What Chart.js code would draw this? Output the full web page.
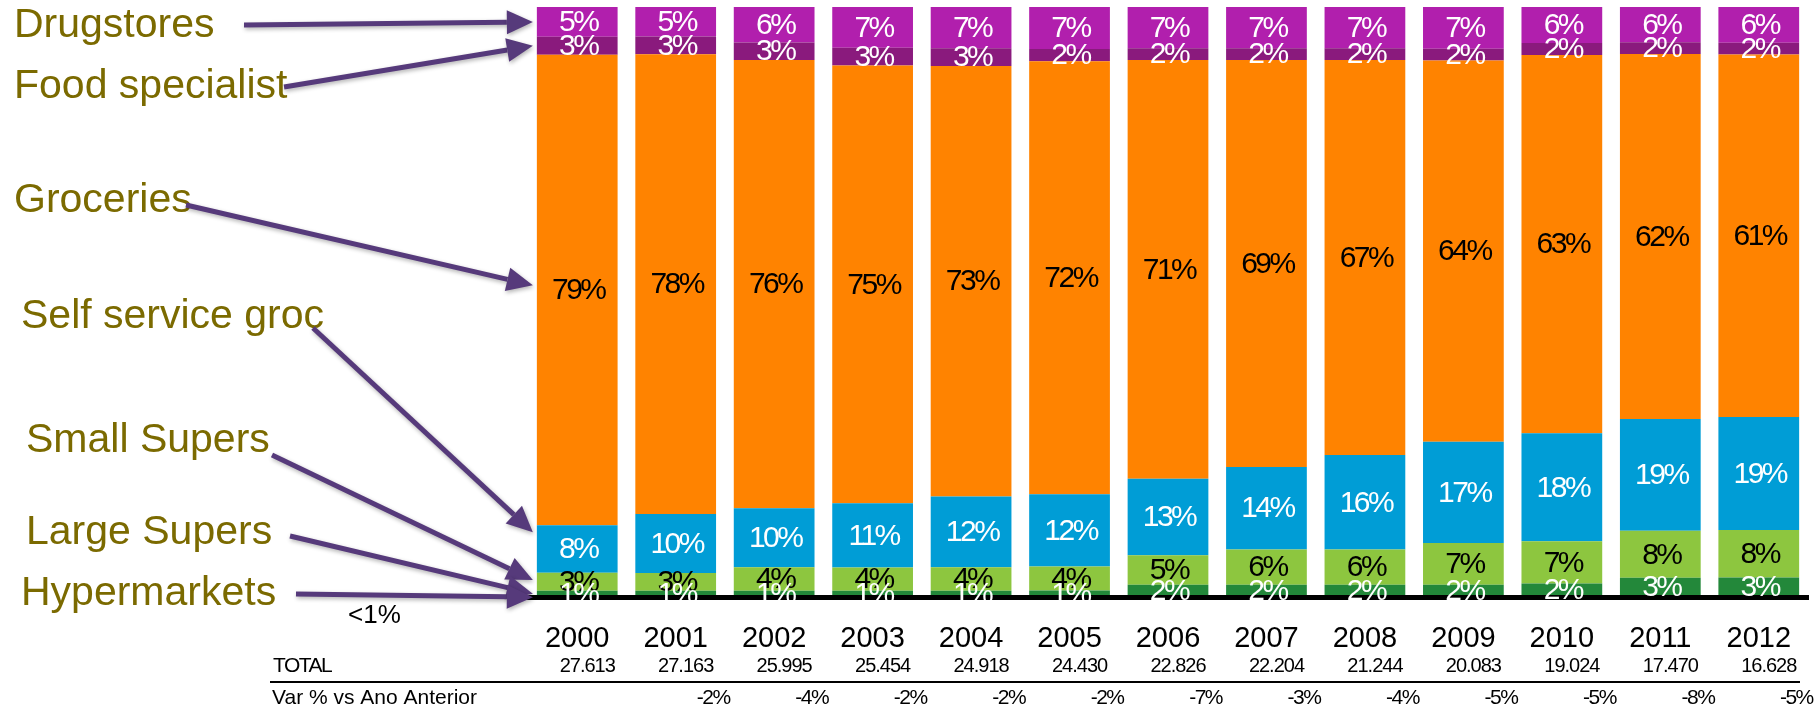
<!DOCTYPE html>
<html>
<head>
	<meta charset="UTF-8">
	<title>Canales</title>
	<script src="https://cdn.jsdelivr.net/npm/chart.js"></script>
	<style>
		body {
			margin:0;
			padding:0;
			overflow: hidden;
			background:#fff;
		}
	</style>
</head>
<body>
	<canvas id="chart" width="1820" height="708"></canvas>
	<script>
		// share of each channel per year, bottom to top
		const years = ['2000','2001','2002','2003','2004','2005','2006','2007','2008','2009','2010','2011','2012'];
		const channels = ['Hypermarkets','Large Supers','Small Supers','Self service groc','Groceries','Food specialist','Drugstores'];
		const hypermarkets   = [0.1,0.1,0.1,0.1,0.1,0.1,0.1,0.1,0.1,0.1,0.3,0.3,0.3];
		const largeSupers    = [1,1,1,1,1,1,2,2,2,2,2,3,3];
		const smallSupers    = [3,3,4,4,4,4,5,6,6,7,7,8,8];
		const selfService    = [8,10,10,11,12,12,13,14,16,17,18,19,19];
		const groceries      = [79,78,76,75,73,72,71,69,67,64,63,62,61];
		const foodSpecialist = [3,3,3,3,3,2,2,2,2,2,2,2,2];
		const drugstores     = [5,5,6,7,7,7,7,7,7,7,6,6,6];
		const totals = [27613,27163,25995,25454,24918,24430,22826,22204,21244,20083,19024,17470,16628];
		const varPct = [null,-2,-4,-2,-2,-2,-7,-3,-4,-5,-5,-8,-5];

		const series = [hypermarkets, largeSupers, smallSupers, selfService, groceries, foodSpecialist, drugstores];
		const colors = ['#b3121b','#23883a','#8dc63f','#009dd6','#ff8300','#8a1a7d','#b11fad'];
		const textColors = [null,'#fff','#000','#fff','#000','#fff','#fff'];

		// 100% stacked: each bar scaled to its own sum
		const sums = years.map((y, i) => series.reduce((a, s) => a + s[i], 0));

		// side captions with arrows into the first bar
		const callouts = [
			{ds: 6, x: 14, y: 26,  from: [244, 25],  at: 0.5},
			{ds: 5, x: 14, y: 87,  from: [284, 87],  at: 0.5},
			{ds: 4, x: 14, y: 201, from: [186, 205], at: 0.49},
			{ds: 3, x: 21, y: 317, from: [313, 328], at: 0.15},
			{ds: 2, x: 26, y: 441, from: [272, 455], at: 0.4},
			{ds: 1, x: 26, y: 533, from: [290, 536], at: 0.5},
			{ds: 0, x: 21, y: 594, from: [296, 594], at: 1}
		];

		const FONT = '"Liberation Sans", Arial, sans-serif';

		function fmtThousands(n){
			return String(n).replace(/\B(?=(\d{3})+(?!\d))/g, '.');
		}

		function arrow(ctx, x1, y1, x2, y2){
			const ang = Math.atan2(y2 - y1, x2 - x1);
			const len = 26, hw = 12;
			const bx = x2 - Math.cos(ang) * len, by = y2 - Math.sin(ang) * len;
			ctx.beginPath();
			ctx.moveTo(x1, y1);
			ctx.lineTo(bx, by);
			ctx.stroke();
			ctx.beginPath();
			ctx.moveTo(x2, y2);
			ctx.lineTo(bx - Math.sin(ang) * hw, by + Math.cos(ang) * hw);
			ctx.lineTo(bx + Math.sin(ang) * hw, by - Math.cos(ang) * hw);
			ctx.closePath();
			ctx.fill();
		}

		const extras = {
			id: 'extras',
			afterDraw(chart){
				const ctx = chart.ctx;
				const xs = chart.scales.x;

				// values inside the segments, upper series first so lower ones sit on top
				ctx.save();
				ctx.font = '30px ' + FONT;
				ctx.letterSpacing = '-2.5px';
				ctx.textAlign = 'center';
				ctx.textBaseline = 'middle';
				for (let d = series.length - 1; d >= 1; d--){
					const meta = chart.getDatasetMeta(d);
					ctx.fillStyle = textColors[d];
					meta.data.forEach((bar, i) => {
						const p = bar.getProps(['x','y','base'], true);
						ctx.fillText(series[d][i] + '%', p.x + 1, (p.y + p.base) / 2 + 1);
					});
				}
				ctx.restore();

				// TOTAL and yearly change rows
				ctx.save();
				ctx.fillStyle = '#000';
				ctx.textBaseline = 'middle';
				ctx.font = '21px ' + FONT;
				ctx.letterSpacing = '-1.5px';
				ctx.textAlign = 'left';
				ctx.fillText('TOTAL', 273, 666);
				ctx.font = '20px ' + FONT;
				ctx.letterSpacing = '-1px';
				ctx.textAlign = 'center';
				totals.forEach((t, i) => ctx.fillText(fmtThousands(t), xs.getPixelForValue(i) + 10, 666));
				ctx.letterSpacing = '0px';
				ctx.font = '21px ' + FONT;
				ctx.textAlign = 'left';
				ctx.fillText('Var % vs Ano Anterior', 272, 698);
				ctx.letterSpacing = '-1.5px';
				ctx.font = '21px ' + FONT;
				ctx.textAlign = 'right';
				varPct.forEach((v, i) => {
					if (v !== null) ctx.fillText(v + '%', xs.getPixelForValue(i) + 54, 698);
				});
				ctx.fillRect(270, 681, 1530, 2);
				ctx.letterSpacing = '0px';
				ctx.font = '26px ' + FONT;
				ctx.textAlign = 'left';
				ctx.fillText('<1%', 348, 616);
				ctx.restore();

				// captions and arrows
				ctx.save();
				ctx.font = '41px ' + FONT;
				ctx.textBaseline = 'middle';
				ctx.fillStyle = '#7b6a00';
				callouts.forEach(c => ctx.fillText(channels[c.ds], c.x, c.y));
				ctx.strokeStyle = '#563a7b';
				ctx.fillStyle = '#563a7b';
				ctx.lineWidth = 5;
				ctx.shadowColor = 'rgba(0,0,0,0.3)';
				ctx.shadowBlur = 4;
				ctx.shadowOffsetX = 1;
				ctx.shadowOffsetY = 2;
				callouts.forEach(c => {
					const p = chart.getDatasetMeta(c.ds).data[0].getProps(['x','y','base','width'], true);
					const tipX = p.x - p.width / 2 - 4;
					const tipY = p.y + (p.base - p.y) * c.at;
					arrow(ctx, c.from[0], c.from[1], tipX, tipY);
				});
				ctx.restore();
			}
		};

		function makeChart(){
			const ctx = document.getElementById('chart').getContext('2d');
			new Chart(ctx, {
				type: 'bar',
				data: {
					labels: years,
					datasets: series.map((s, d) => ({
						label: channels[d],
						data: s.map((v, i) => v / sums[i] * 100),
						backgroundColor: colors[d],
						borderWidth: 0,
						barPercentage: 0.82,
						categoryPercentage: 1
					}))
				},
				options: {
					responsive: false,
					animation: false,
					layout: {padding: {left: 528, right: 12, top: 7, bottom: 28}},
					plugins: {
						legend: {display: false},
						tooltip: {enabled: false},
						title: {display: false}
					},
					scales: {
						x: {
							stacked: true,
							grid: {display: false, drawTicks: false},
							border: {display: true, color: '#000', width: 5, z: 1},
							ticks: {
								color: '#000',
								padding: 24,
								font: {family: FONT, size: 29}
							}
						},
						y: {
							stacked: true,
							display: false,
							min: 0,
							max: 100
						}
					}
				},
				plugins: [extras]
			});
		}

		makeChart();
	</script>
</body>
</html>
